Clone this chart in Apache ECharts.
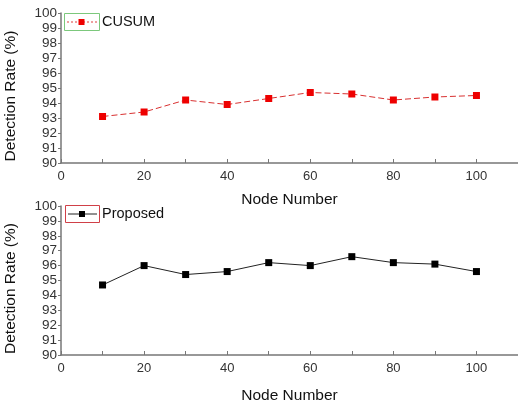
<!DOCTYPE html>
<html><head><meta charset="utf-8">
<script src="https://cdn.jsdelivr.net/npm/echarts@6/dist/echarts.min.js"></script>
<style>html,body{margin:0;padding:0;background:#fff}#c{width:518px;height:404px}</style>
</head><body><div id="c"></div>
<script>
const nodes = [10,20,30,40,50,60,70,80,90,100];
const cusum = [93.1,93.4,94.2,93.9,94.3,94.7,94.6,94.2,94.4,94.5];
const proposed = [94.7,96.0,95.4,95.6,96.2,96.0,96.6,96.2,96.1,95.6];
const yTicks = [90,91,92,93,94,95,96,97,98,99,100];
const xTickLabels = [0,20,40,60,80,100];
const seriesNames = ['CUSUM','Proposed'];

const font = 'Liberation Sans, Arial, sans-serif';
function xAxis(i,gap){
  return {type:'value', gridIndex:i, min:0, max:110, interval:10,
    name:'Node Number', nameLocation:'middle', nameGap:gap,
    nameTextStyle:{fontFamily:font,fontSize:15.5,color:'#111'},
    axisLine:{lineStyle:{color:'#777',width:1.5}},
    axisTick:{inside:true,length:4,lineStyle:{color:'#777'}},
    axisLabel:{fontFamily:font,fontSize:13,color:'#333',margin:7,
      formatter:v=>xTickLabels.indexOf(v)>=0?String(v):''},
    splitLine:{show:false}};
}
function yAxis(i){
  return {type:'value', gridIndex:i, min:yTicks[0], max:yTicks[yTicks.length-1], interval:1,
    name:'Detection Rate (%)', nameLocation:'middle', nameGap:42,
    nameTextStyle:{fontFamily:font,fontSize:15.5,color:'#111',padding:[0,16,0,0]},
    axisLine:{show:true,lineStyle:{color:'#777',width:1.5}},
    axisTick:{show:true,inside:false,length:3,lineStyle:{color:'#777'}},
    axisLabel:{fontFamily:font,fontSize:13.5,color:'#333',margin:4},
    splitLine:{show:false}};
}
function legendGroup(x,y,w,boxColor,lineColor,markColor,dashed,label){
  return {type:'group',x:x,y:y,children:[
    {type:'rect',shape:{x:0.5,y:0.5,width:w,height:17},style:{fill:'#fff',stroke:boxColor,lineWidth:1}},
    {type:'line',shape:{x1:3,y1:9,x2:w-2,y2:9},style:{stroke:lineColor,lineWidth:1,lineDash:dashed?[2,2]:null}},
    {type:'rect',shape:{x:w/2-3,y:6,width:6,height:6},style:{fill:markColor}},
    {type:'text',x:w+3,y:9,style:{text:label,fontFamily:font,fontSize:14.5,fill:'#111',verticalAlign:'middle'}}
  ]};
}
const chart = echarts.init(document.getElementById('c'));
chart.setOption({
  animation:false,
  grid:[{left:61,top:13,width:457,height:150,containLabel:false,outerBoundsMode:'none'},
        {left:61,top:206,width:457,height:149,containLabel:false,outerBoundsMode:'none'}],
  xAxis:[xAxis(0,29),xAxis(1,33)],
  yAxis:[yAxis(0),yAxis(1)],
  graphic:[
    legendGroup(64,13,35,'#7cc87c','#e04040','#ee0000',true,seriesNames[0]),
    legendGroup(65,205,34,'#d04048','#222','#000',false,seriesNames[1])
  ],
  series:[
    {name:seriesNames[0],type:'line',xAxisIndex:0,yAxisIndex:0,
     data:nodes.map((x,i)=>[x,cusum[i]]),
     symbol:'rect',symbolSize:7,
     lineStyle:{color:'#d83030',width:1,type:[6,3]},
     itemStyle:{color:'#ee0000'}},
    {name:seriesNames[1],type:'line',xAxisIndex:1,yAxisIndex:1,
     data:nodes.map((x,i)=>[x,proposed[i]]),
     symbol:'rect',symbolSize:7,
     lineStyle:{color:'#222',width:1},
     itemStyle:{color:'#000'}}
  ]
});
</script></body></html>
